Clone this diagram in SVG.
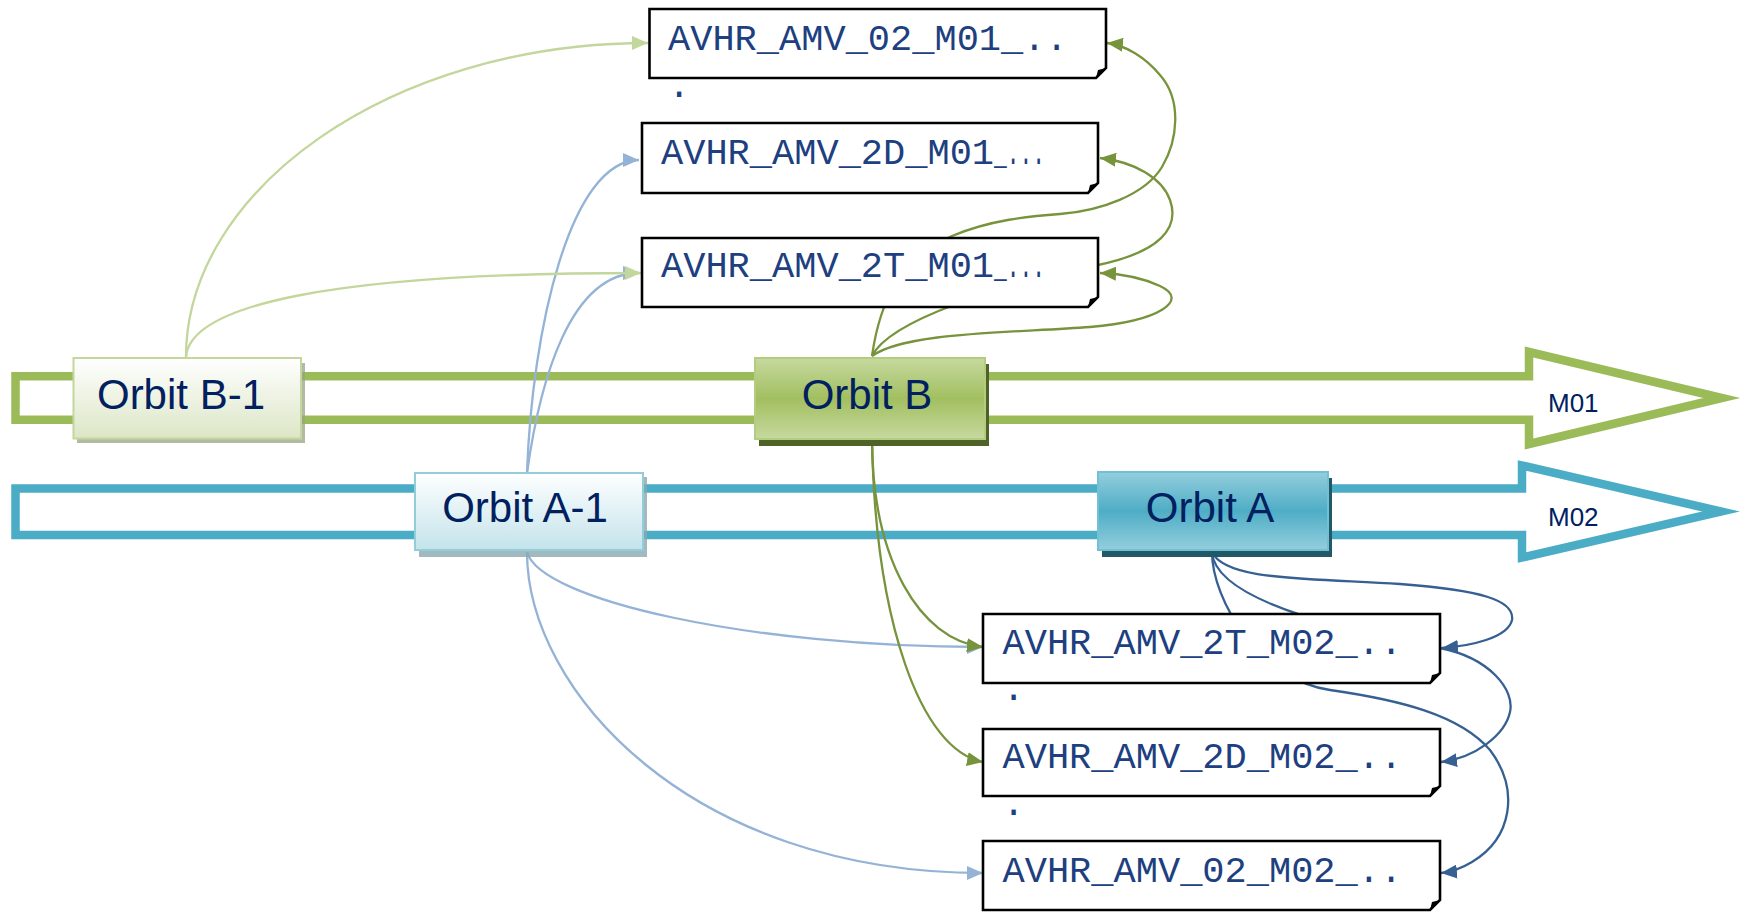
<svg xmlns="http://www.w3.org/2000/svg" width="1746" height="922" viewBox="0 0 1746 922">
  <style>
    .band { fill: none; stroke-width: 8.5; stroke-linejoin: miter; stroke-miterlimit: 8; }
    .note { fill: #ffffff; stroke: #000000; stroke-width: 2.6; stroke-linejoin: miter; }
    .fold { fill: #000000; }
    .mono { font-family: "Liberation Mono", "Courier New", monospace; font-size: 37px; fill: #203f80; }
    .orbit { font-family: "Liberation Sans", Arial, sans-serif; font-size: 42px; fill: #002060; text-anchor: middle; }
    .mlabel { font-family: "Liberation Sans", Arial, sans-serif; font-size: 26px; fill: #002060; }
    .conn { fill: none; stroke-width: 2.3; }
    .lg { stroke: #c3d69b; }
    .lb { stroke: #95b3d7; }
    .dg { stroke: #77933c; }
    .db { stroke: #376092; }
  </style>
  <defs>
    <linearGradient id="gradB1" x1="0" y1="0" x2="0" y2="1">
      <stop offset="0" stop-color="#ffffff"/>
      <stop offset="1" stop-color="#dce6c6"/>
    </linearGradient>
    <linearGradient id="gradB" x1="0" y1="0" x2="0" y2="1">
      <stop offset="0" stop-color="#c6d99f"/>
      <stop offset="0.5" stop-color="#a2bf60"/>
      <stop offset="1" stop-color="#c6d99f"/>
    </linearGradient>
    <linearGradient id="gradA1" x1="0" y1="0" x2="0" y2="1">
      <stop offset="0" stop-color="#ffffff"/>
      <stop offset="1" stop-color="#c3e3eb"/>
    </linearGradient>
    <linearGradient id="gradA" x1="0" y1="0" x2="0" y2="1">
      <stop offset="0" stop-color="#94cedd"/>
      <stop offset="0.5" stop-color="#4eadc6"/>
      <stop offset="1" stop-color="#94cedd"/>
    </linearGradient>
    <marker id="arrLG" markerUnits="userSpaceOnUse" markerWidth="16" markerHeight="14" refX="16" refY="7" orient="auto">
      <path d="M0,0 L16,7 L0,14 Z" fill="#c3d69b"/>
    </marker>
    <marker id="arrLB" markerUnits="userSpaceOnUse" markerWidth="16" markerHeight="14" refX="16" refY="7" orient="auto">
      <path d="M0,0 L16,7 L0,14 Z" fill="#95b3d7"/>
    </marker>
    <marker id="arrDG" markerUnits="userSpaceOnUse" markerWidth="16" markerHeight="14" refX="16" refY="7" orient="auto">
      <path d="M0,0 L16,7 L0,14 Z" fill="#77933c"/>
    </marker>
    <marker id="arrDB" markerUnits="userSpaceOnUse" markerWidth="16" markerHeight="14" refX="16" refY="7" orient="auto">
      <path d="M0,0 L16,7 L0,14 Z" fill="#376092"/>
    </marker>
  </defs>

  <rect x="0" y="0" width="1746" height="922" fill="#ffffff"/>

  <!-- timeline bands -->
  <g id="band-m01">
    <path class="band" stroke="#9bbb59" d="M15.5,376.25 H1529 V352 L1722,398 L1529,444 V419.75 H15.5 Z"/>
    <text class="mlabel" x="1548" y="412">M01</text>
  </g>
  <g id="band-m02">
    <path class="band" stroke="#4bacc6" d="M15.5,488.5 H1522 V465.5 L1721,511.5 L1522,557.5 V535 H15.5 Z"/>
    <text class="mlabel" x="1548" y="526">M02</text>
  </g>

  <!-- connectors -->
  <g id="connectors">
    <path class="conn lb" marker-end="url(#arrLB)" d="M527,473 C532,330 570,160 639,160"/>
    <path class="conn lb" marker-end="url(#arrLB)" d="M527,473 C540,380 570,273 639,273"/>
    <path class="conn lb" marker-end="url(#arrLB)" d="M527,552 C540,600 750,647 983,647"/>
    <path class="conn lb" marker-end="url(#arrLB)" d="M527,552 C527,690 690,873 983,873"/>

    <path class="conn lg" marker-end="url(#arrLG)" d="M186,357 C186,190 390,43 648,43"/>
    <path class="conn lg" marker-end="url(#arrLG)" d="M186,357 C190,305 330,273 641,273"/>

    <path class="conn dg" marker-end="url(#arrDG)" d="M872,356 C880,300 900,260 952,236 C990,220 1030,216 1060,214 C1100,211 1145,195 1162,167 C1178,140 1182,100 1160,75 C1145,57 1125,45 1107,43"/>
    <path class="conn dg" marker-end="url(#arrDG)" d="M872,356 C890,320 1000,285 1098,265 C1160,252 1180,228 1170,200 C1162,178 1135,162 1100,158"/>
    <path class="conn dg" marker-end="url(#arrDG)" d="M872,356 C905,332 1010,333 1090,327 C1160,321 1190,300 1160,286 C1145,279 1125,274 1100,273"/>
    <path class="conn dg" marker-end="url(#arrDG)" d="M872,438 C872,560 920,640 983,647"/>
    <path class="conn dg" marker-end="url(#arrDG)" d="M872,438 C875,620 920,750 983,762"/>

    <path class="conn db" marker-end="url(#arrDB)" d="M1212,552 C1225,580 1300,578 1400,584 C1480,590 1515,600 1512,620 C1508,638 1470,646 1442,648"/>
    <path class="conn db" marker-end="url(#arrDB)" d="M1212,552 C1215,600 1340,630 1440,648 C1490,658 1515,690 1510,712 C1505,735 1475,758 1441,762"/>
    <path class="conn db" marker-end="url(#arrDB)" d="M1212,552 C1212,600 1260,680 1330,690 C1400,700 1460,715 1490,750 C1520,790 1512,838 1472,862 C1462,868 1452,872 1441,873"/>
  </g>

  <!-- product notes, M01 -->
  <g id="note-02-m01">
    <path class="note" d="M649.5,9 H1106 V68 L1096,78 H649.5 Z"/>
    <path class="fold" d="M1106,68 L1096,78 L1098,70 Z"/>
    <text class="mono" x="668" y="50">AVHR_AMV_02_M01_..</text>
    <text class="mono" x="668" y="97">.</text>
  </g>
  <g id="note-2d-m01">
    <path class="note" d="M642,123 H1098 V183 L1088,193 H642 Z"/>
    <path class="fold" d="M1098,183 L1088,193 L1090,185 Z"/>
    <text class="mono" x="661" y="164">AVHR_AMV_2D_M01</text>
    <text class="mono" x="994" y="164" textLength="51" lengthAdjust="spacingAndGlyphs">_...</text>
  </g>
  <g id="note-2t-m01">
    <path class="note" d="M642,238 H1098 V297 L1088,307 H642 Z"/>
    <path class="fold" d="M1098,297 L1088,307 L1090,299 Z"/>
    <text class="mono" x="661" y="277">AVHR_AMV_2T_M01</text>
    <text class="mono" x="994" y="277" textLength="51" lengthAdjust="spacingAndGlyphs">_...</text>
  </g>

  <!-- product notes, M02 -->
  <g id="note-2t-m02">
    <path class="note" d="M983,614 H1440 V673 L1430,683 H983 Z"/>
    <path class="fold" d="M1440,673 L1430,683 L1432,675 Z"/>
    <text class="mono" x="1002.5" y="654">AVHR_AMV_2T_M02_..</text>
    <text class="mono" x="1002.5" y="700">.</text>
  </g>
  <g id="note-2d-m02">
    <path class="note" d="M983,729 H1440 V786 L1430,796 H983 Z"/>
    <path class="fold" d="M1440,786 L1430,796 L1432,788 Z"/>
    <text class="mono" x="1002.5" y="768">AVHR_AMV_2D_M02_..</text>
    <text class="mono" x="1002.5" y="815">.</text>
  </g>
  <g id="note-02-m02">
    <path class="note" d="M983,841 H1440 V900 L1430,910 H983 Z"/>
    <path class="fold" d="M1440,900 L1430,910 L1432,902 Z"/>
    <text class="mono" x="1002.5" y="882">AVHR_AMV_02_M02_..</text>
  </g>

  <!-- orbit nodes -->
  <g id="orbit-b-1">
    <rect x="77" y="363" width="228" height="80" fill="#9aa386" opacity="0.75"/>
    <rect x="73.5" y="358" width="227.5" height="80.5" fill="url(#gradB1)" stroke="#c3d69b" stroke-width="2"/>
    <text class="orbit" x="181" y="409">Orbit B-1</text>
  </g>
  <g id="orbit-b">
    <rect x="759" y="364" width="230" height="82" fill="#4f6228"/>
    <rect x="755" y="358" width="230" height="81" fill="url(#gradB)" stroke="#b3cc80" stroke-width="2"/>
    <text class="orbit" x="867" y="409">Orbit B</text>
  </g>
  <g id="orbit-a-1">
    <rect x="419" y="477" width="228" height="80" fill="#8aa9b0" opacity="0.8"/>
    <rect x="415" y="473" width="228" height="77" fill="url(#gradA1)" stroke="#92cddc" stroke-width="2"/>
    <text class="orbit" x="525" y="522">Orbit A-1</text>
  </g>
  <g id="orbit-a">
    <rect x="1102" y="478" width="230" height="79" fill="#215968"/>
    <rect x="1098" y="472" width="230" height="78" fill="url(#gradA)" stroke="#72c0d4" stroke-width="2"/>
    <text class="orbit" x="1210" y="522">Orbit A</text>
  </g>
</svg>
